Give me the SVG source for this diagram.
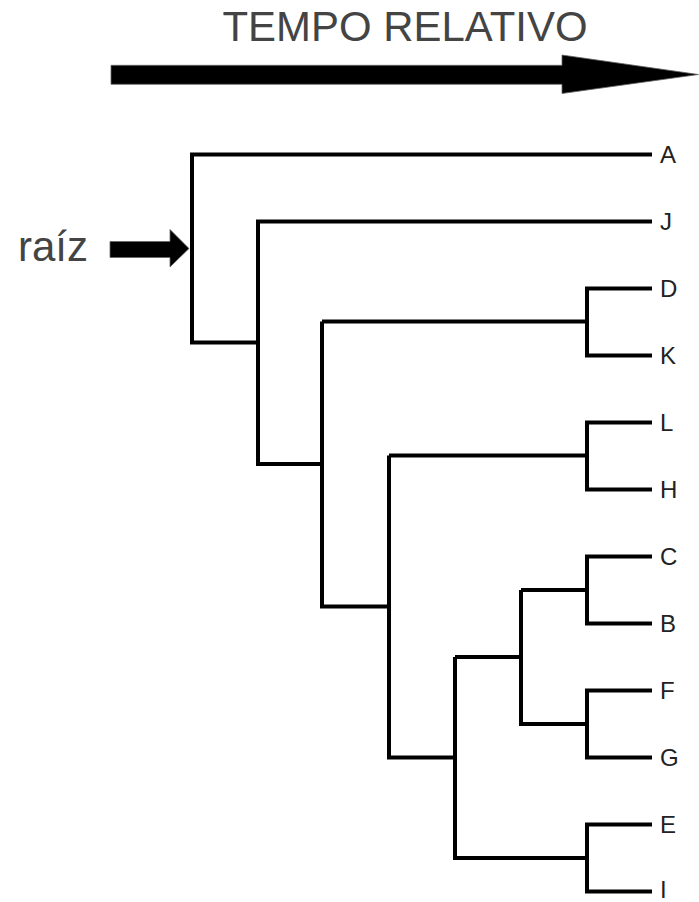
<svg xmlns="http://www.w3.org/2000/svg" width="699" height="902" viewBox="0 0 699 902">
<style>
.title{font-family:"Liberation Sans",Arial,Helvetica,sans-serif;fill:#444;}
.leaf{font-family:"Liberation Sans",Arial,Helvetica,sans-serif;font-size:24px;fill:#222;}
.br{fill:none;stroke:#000;stroke-width:4;stroke-linejoin:miter;stroke-linecap:butt;}
.arr{fill:#000;stroke:#666;stroke-width:0.8;}
</style>
<rect width="699" height="902" fill="#fff"/>
<g id="time-axis">
<text class="title" x="222.5" y="40.7" font-size="43" textLength="365" lengthAdjust="spacingAndGlyphs">TEMPO RELATIVO</text>
<polygon class="arr" points="111,65.3 562,65.3 562,55 698.5,74.5 562,93.5 562,84.3 111,84.3"/>
</g>
<g id="root-label">
<text class="title" x="18" y="261" font-size="42">raíz</text>
<polygon class="arr" points="110,241.5 170,241.5 170,229.5 189,248.5 170,267 170,257.5 110,257.5"/>
</g>
<g id="connectors">
<path class="br" d="M652,154.5 H192 V342.5 H258"/>
<path class="br" d="M652,221.5 H258 V464 H322"/>
<path class="br" d="M322,321.5 V606.5 H389"/>
<path class="br" d="M322,321.5 H587"/>
<path class="br" d="M652,288.5 H587 V355.5 H652"/>
<path class="br" d="M389,455.5 V757.5 H455"/>
<path class="br" d="M389,455.5 H587"/>
<path class="br" d="M652,422.5 H587 V489.5 H652"/>
<path class="br" d="M455,657 V858 H587"/>
<path class="br" d="M455,657 H521"/>
<path class="br" d="M521,590 V724 H587"/>
<path class="br" d="M521,590 H587"/>
<path class="br" d="M652,556.5 H587 V623.5 H652"/>
<path class="br" d="M652,690.5 H587 V757.5 H652"/>
<path class="br" d="M652,824.5 H587 V891.5 H652"/>
</g>
<g id="leaf-A"><text class="leaf" x="660" y="163">A</text></g>
<g id="leaf-J"><text class="leaf" x="660" y="230">J</text></g>
<g id="leaf-D"><text class="leaf" x="660" y="297">D</text></g>
<g id="leaf-K"><text class="leaf" x="660" y="364">K</text></g>
<g id="leaf-L"><text class="leaf" x="660" y="431">L</text></g>
<g id="leaf-H"><text class="leaf" x="660" y="498">H</text></g>
<g id="leaf-C"><text class="leaf" x="660" y="565">C</text></g>
<g id="leaf-B"><text class="leaf" x="660" y="632">B</text></g>
<g id="leaf-F"><text class="leaf" x="660" y="699">F</text></g>
<g id="leaf-G"><text class="leaf" x="660" y="766">G</text></g>
<g id="leaf-E"><text class="leaf" x="660" y="833">E</text></g>
<g id="leaf-I"><text class="leaf" x="660" y="898">I</text></g>
</svg>
